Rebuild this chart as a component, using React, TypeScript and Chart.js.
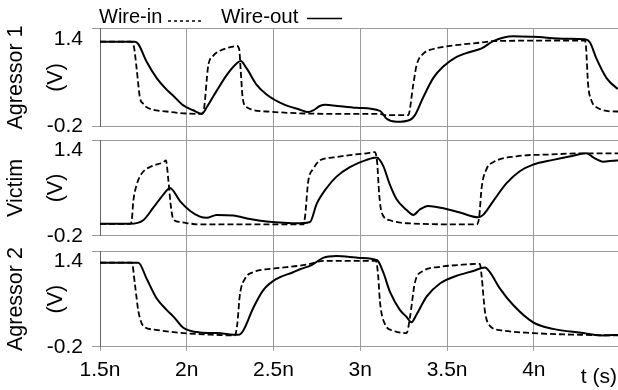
import React, { useEffect, useRef } from 'react';
import { Chart, registerables } from 'chart.js';

Chart.register(...registerables);

const FONT = "'Liberation Sans', Arial, Helvetica, sans-serif";

// Axis / label data
const panelNames = ['Agressor 1', 'Victim', 'Agressor 2'];
const seriesNames = ['Wire-in', 'Wire-out'];
const yTickValues = [-0.2, 0.6, 1.4];
const xUnit = 'n';
const xAxisName = 't (s)';

// Agressor 1 (time in ns, voltage in V)
const a1InT = [1.5, 1.679, 1.696, 1.711, 1.73, 1.748, 1.769, 1.884, 2.076, 2.095, 2.124, 2.153, 2.191, 2.266, 2.287, 2.302, 2.31, 2.322, 2.345, 2.46, 2.652, 2.94, 3.113, 3.14, 3.276, 3.305, 3.324, 3.362, 3.42, 3.516, 3.708, 3.766, 4.294, 4.3, 4.313, 4.332, 4.361, 4.476, 4.49];
const a1InV = [1.19, 1.19, 1.1, 0.75, 0.27, 0.17, 0.11, 0.04, 0.0, 0.03, 0.8, 0.96, 1.04, 1.11, 1.12, 1.07, 0.75, 0.27, 0.11, 0.04, 0.01, 0.0, 0.0, -0.02, -0.02, 0.48, 0.8, 0.99, 1.07, 1.12, 1.18, 1.2, 1.21, 1.13, 0.48, 0.22, 0.11, 0.04, 0.04];
const a1OutT = [1.5, 1.702, 1.721, 1.769, 1.827, 1.884, 1.922, 1.98, 2.037, 2.086, 2.115, 2.172, 2.23, 2.287, 2.31, 2.345, 2.403, 2.46, 2.556, 2.652, 2.7, 2.73, 2.767, 2.8, 2.844, 2.979, 3.113, 3.152, 3.209, 3.286, 3.315, 3.362, 3.42, 3.478, 3.555, 3.631, 3.699, 3.766, 3.881, 3.996, 4.188, 4.294, 4.323, 4.361, 4.419, 4.476, 4.49];
const a1OutV = [1.19, 1.19, 1.15, 0.86, 0.59, 0.4, 0.3, 0.14, 0.06, 0.0, 0.11, 0.38, 0.64, 0.83, 0.87, 0.75, 0.48, 0.32, 0.16, 0.07, 0.03, 0.06, 0.13, 0.15, 0.14, 0.1, 0.05, -0.08, -0.13, -0.1, -0.02, 0.27, 0.59, 0.78, 0.94, 1.02, 1.08, 1.2, 1.28, 1.27, 1.24, 1.23, 1.18, 0.91, 0.59, 0.43, 0.41];

// Victim
const vInT = [1.5, 1.673, 1.683, 1.692, 1.711, 1.74, 1.788, 1.865, 1.88, 1.893, 1.907, 1.922, 1.961, 2.076, 2.671, 2.681, 2.7, 2.729, 2.767, 2.844, 2.94, 3.036, 3.084, 3.097, 3.109, 3.123, 3.171, 3.267, 3.67, 3.685, 3.699, 3.728, 3.766, 3.9, 4.092, 4.284, 4.49];
const vInV = [0.0, 0.0, 0.06, 0.38, 0.65, 0.84, 0.95, 1.03, 1.06, 0.76, 0.33, 0.08, 0.03, -0.01, -0.01, 0.11, 0.71, 0.92, 1.06, 1.11, 1.15, 1.18, 1.2, 1.03, 0.49, 0.19, 0.06, 0.01, -0.01, 0.11, 0.6, 0.92, 1.03, 1.13, 1.16, 1.18, 1.18];
const vOutT = [1.5, 1.673, 1.749, 1.807, 1.865, 1.903, 1.961, 2.018, 2.076, 2.115, 2.172, 2.268, 2.364, 2.46, 2.652, 2.71, 2.748, 2.806, 2.863, 2.94, 3.036, 3.094, 3.132, 3.171, 3.209, 3.267, 3.305, 3.343, 3.391, 3.478, 3.574, 3.679, 3.708, 3.766, 3.843, 3.919, 3.996, 4.111, 4.227, 4.304, 4.342, 4.399, 4.476, 4.49];
const vOutV = [0.0, 0.0, 0.06, 0.27, 0.49, 0.6, 0.38, 0.22, 0.12, 0.1, 0.15, 0.14, 0.08, 0.04, 0.01, 0.03, 0.33, 0.6, 0.79, 0.95, 1.07, 1.11, 0.97, 0.65, 0.41, 0.23, 0.15, 0.24, 0.3, 0.26, 0.19, 0.11, 0.15, 0.38, 0.68, 0.88, 0.99, 1.07, 1.14, 1.18, 1.11, 1.04, 1.06, 1.06];

// Agressor 2
const a2InT = [1.5, 1.683, 1.702, 1.721, 1.749, 1.807, 1.98, 2.172, 2.278, 2.291, 2.306, 2.335, 2.383, 2.498, 2.652, 2.71, 2.786, 2.94, 3.09, 3.103, 3.113, 3.142, 3.19, 3.267, 3.286, 3.315, 3.362, 3.459, 3.612, 3.689, 3.699, 3.718, 3.747, 3.804, 3.996, 4.284, 4.49];
const a2InV = [1.21, 1.21, 0.83, 0.4, 0.15, 0.09, 0.03, 0.0, -0.01, 0.18, 0.67, 0.94, 1.05, 1.11, 1.16, 1.19, 1.24, 1.24, 1.24, 0.99, 0.56, 0.18, 0.07, 0.03, 0.29, 0.88, 1.07, 1.14, 1.18, 1.19, 0.99, 0.4, 0.15, 0.08, 0.03, 0.0, -0.01];
const a2OutT = [1.5, 1.721, 1.769, 1.827, 1.884, 1.922, 1.98, 2.076, 2.172, 2.297, 2.325, 2.383, 2.441, 2.518, 2.613, 2.652, 2.719, 2.786, 2.863, 2.998, 3.097, 3.132, 3.171, 3.228, 3.267, 3.295, 3.324, 3.382, 3.459, 3.555, 3.65, 3.718, 3.747, 3.804, 3.881, 3.996, 4.111, 4.284, 4.38, 4.49];
const a2OutV = [1.21, 1.21, 0.94, 0.61, 0.42, 0.31, 0.12, 0.04, 0.03, 0.0, 0.07, 0.45, 0.75, 0.94, 1.05, 1.1, 1.17, 1.29, 1.32, 1.29, 1.25, 1.05, 0.72, 0.42, 0.3, 0.21, 0.34, 0.64, 0.86, 0.99, 1.07, 1.13, 1.05, 0.78, 0.5, 0.21, 0.1, 0.03, -0.01, 0.0];

const pts = (t: number[], v: number[]) => t.map((x, i) => ({ x, y: v[i] }));
const near = (a: number, b: number) => Math.abs(a - b) < 1e-6;

const panelAxis = (title: string, weight: number, stackWeight: number) => ({
  type: 'linear',
  position: 'left',
  stack: 'panels',
  stackWeight,
  weight,
  min: -0.2,
  max: 1.4,
  afterBuildTicks: (s: any) => {
    s.ticks = yTickValues.map((value) => ({ value }));
  },
  afterFit: (s: any) => {
    s.width = 100;
  },
  ticks: {
    font: { family: FONT, size: 21, lineHeight: 0.95 },
    color: '#000',
    padding: 9,
    callback: (v: number) => (near(v, 1.4) ? ['', '1.4'] : near(v, -0.2) ? '-0.2' : ''),
  },
  grid: {
    color: (c: any) => (c.tick && near(c.tick.value, 0.6) ? '#333' : '#9a9a9a'),
    tickColor: (c: any) => (c.tick && near(c.tick.value, 0.6) ? 'rgba(0,0,0,0)' : '#9a9a9a'),
    tickLength: 8,
    lineWidth: 1,
  },
  border: { display: true, color: '#666', width: 1 },
  title: {
    display: true,
    text: [title, '', '(V)'],
    font: { family: FONT, size: 21.5, lineHeight: 20 / 21.5 },
    color: '#000',
    padding: { top: 6, bottom: 0 },
  },
});

const gapAxis = (weight: number, stackWeight: number) => ({
  type: 'linear',
  position: 'left',
  stack: 'panels',
  stackWeight,
  weight,
  display: false,
  afterFit: (s: any) => {
    s.width = 100;
  },
});

const textPlugin = {
  id: 'extraText',
  afterDraw(chart: any) {
    const ctx = chart.ctx;
    ctx.save();
    ctx.fillStyle = '#000';
    ctx.strokeStyle = '#000';
    ctx.font = `20px ${FONT}`;
    ctx.textBaseline = 'alphabetic';
    ctx.textAlign = 'left';
    ctx.fillText(seriesNames[0], 99, 23);
    ctx.lineWidth = 1.5;
    ctx.setLineDash([3, 3]);
    ctx.beginPath();
    ctx.moveTo(168, 21);
    ctx.lineTo(203, 21);
    ctx.stroke();
    ctx.setLineDash([]);
    ctx.font = `20.5px ${FONT}`;
    ctx.fillText(seriesNames[1], 221, 23);
    ctx.beginPath();
    ctx.moveTo(307, 18.5);
    ctx.lineTo(342, 18.5);
    ctx.stroke();
    ctx.font = `21px ${FONT}`;
    ctx.textAlign = 'right';
    ctx.textBaseline = 'middle';
    ctx.fillText(xAxisName, 617, 377);
    ctx.restore();
  },
};

export default function App() {
  const ref = useRef<HTMLCanvasElement | null>(null);

  useEffect(() => {
    if (!ref.current) return;
    const inStyle = { borderColor: '#000', borderWidth: 1.8, borderDash: [6, 3], pointRadius: 0, cubicInterpolationMode: 'monotone' as const, fill: false };
    const outStyle = { borderColor: '#000', borderWidth: 2, pointRadius: 0, cubicInterpolationMode: 'monotone' as const, fill: false };
    const chart = new Chart(ref.current, {
      type: 'line',
      data: {
        datasets: [
          { label: `${panelNames[0]} ${seriesNames[0]}`, data: pts(a1InT, a1InV), yAxisID: 'yA1', ...inStyle },
          { label: `${panelNames[0]} ${seriesNames[1]}`, data: pts(a1OutT, a1OutV), yAxisID: 'yA1', ...outStyle },
          { label: `${panelNames[1]} ${seriesNames[0]}`, data: pts(vInT, vInV), yAxisID: 'yV', ...inStyle },
          { label: `${panelNames[1]} ${seriesNames[1]}`, data: pts(vOutT, vOutV), yAxisID: 'yV', ...outStyle },
          { label: `${panelNames[2]} ${seriesNames[0]}`, data: pts(a2InT, a2InV), yAxisID: 'yA2', ...inStyle },
          { label: `${panelNames[2]} ${seriesNames[1]}`, data: pts(a2OutT, a2OutV), yAxisID: 'yA2', ...outStyle },
        ],
      },
      options: {
        responsive: false,
        animation: false,
        devicePixelRatio: 1,
        layout: { padding: { top: 26, left: 0, right: 0, bottom: 0 } },
        plugins: { legend: { display: false }, tooltip: { enabled: false } },
        scales: {
          x: {
            type: 'linear',
            position: 'bottom',
            min: 1.5,
            max: 4.485,
            ticks: {
              stepSize: 0.5,
              includeBounds: false,
              autoSkip: false,
              maxRotation: 0,
              font: { family: FONT, size: 21 },
              color: '#000',
              padding: 7,
              callback: (v: any) => `${v}${xUnit}`,
            },
            grid: {
              color: (c: any) => (c.tick && near(c.tick.value, 1.5) ? 'rgba(0,0,0,0)' : '#9a9a9a'),
              tickColor: '#9a9a9a',
              tickLength: 4,
              lineWidth: 1,
            },
            border: { display: false },
          },
          yA2: panelAxis(panelNames[2], 1, 98.3),
          g2: gapAxis(2, 16),
          yV: panelAxis(panelNames[1], 3, 98.5),
          g1: gapAxis(4, 14.5),
          yA1: panelAxis(panelNames[0], 5, 100),
        } as any,
      },
      plugins: [textPlugin],
    } as any);
    return () => chart.destroy();
  }, []);

  return (
    <div style={{ position: 'absolute', left: 0, top: 0, width: 618, height: 390, background: '#fff' }}>
      <canvas ref={ref} width={618} height={390} style={{ display: 'block' }} />
    </div>
  );
}
